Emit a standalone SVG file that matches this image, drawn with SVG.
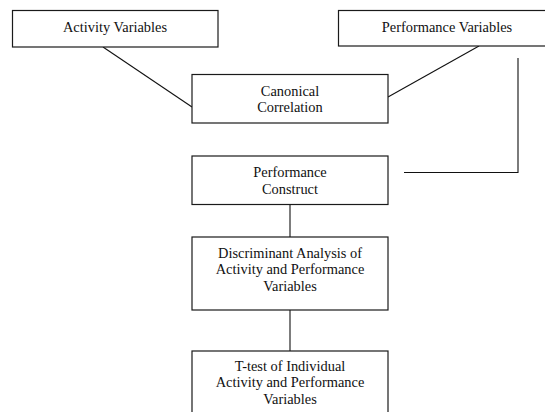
<svg xmlns="http://www.w3.org/2000/svg" width="545" height="412" viewBox="0 0 545 412">
<style>
.box{fill:#fff;stroke:#1a1a1a;stroke-width:1.2}
.c{fill:none;stroke:#111;stroke-width:1.1}
text{font-family:"Liberation Serif","Times New Roman",serif;font-size:14.4px;fill:#111;text-anchor:middle}
</style>
<rect width="545" height="412" fill="#fff"/>
<g id="connectors">
<line class="c" x1="103" y1="47" x2="192" y2="107"/>
<line class="c" x1="479" y1="46" x2="388" y2="97"/>
<polyline class="c" points="518,58 518,172.5 404,172.5"/>
<line class="c" x1="290" y1="204.5" x2="290" y2="237"/>
<line class="c" x1="290" y1="310" x2="290" y2="351"/>
</g>
<g id="activity-variables">
<rect class="box" x="12.5" y="10.5" width="205.5" height="36.5"/>
<text x="115" y="31.5">Activity Variables</text>
</g>
<g id="performance-variables">
<rect class="box" x="338.5" y="10.5" width="218" height="35.5"/>
<text x="447" y="31.5">Performance Variables</text>
</g>
<g id="canonical-correlation">
<rect class="box" x="192" y="74.5" width="196" height="48.5"/>
<text x="290" y="95.5">Canonical</text>
<text x="290" y="111.5">Correlation</text>
</g>
<g id="performance-construct">
<rect class="box" x="192" y="156" width="196" height="48.5"/>
<text x="290" y="176.5">Performance</text>
<text x="290" y="193.5">Construct</text>
</g>
<g id="discriminant-analysis">
<rect class="box" x="192" y="237" width="196" height="73"/>
<text x="290" y="258">Discriminant Analysis of</text>
<text x="290" y="274">Activity and Performance</text>
<text x="290" y="290.5">Variables</text>
</g>
<g id="t-test">
<rect class="box" x="192" y="351" width="196" height="70"/>
<text x="290" y="371">T-test of Individual</text>
<text x="290" y="387">Activity and Performance</text>
<text x="290" y="403.5">Variables</text>
</g>
</svg>
